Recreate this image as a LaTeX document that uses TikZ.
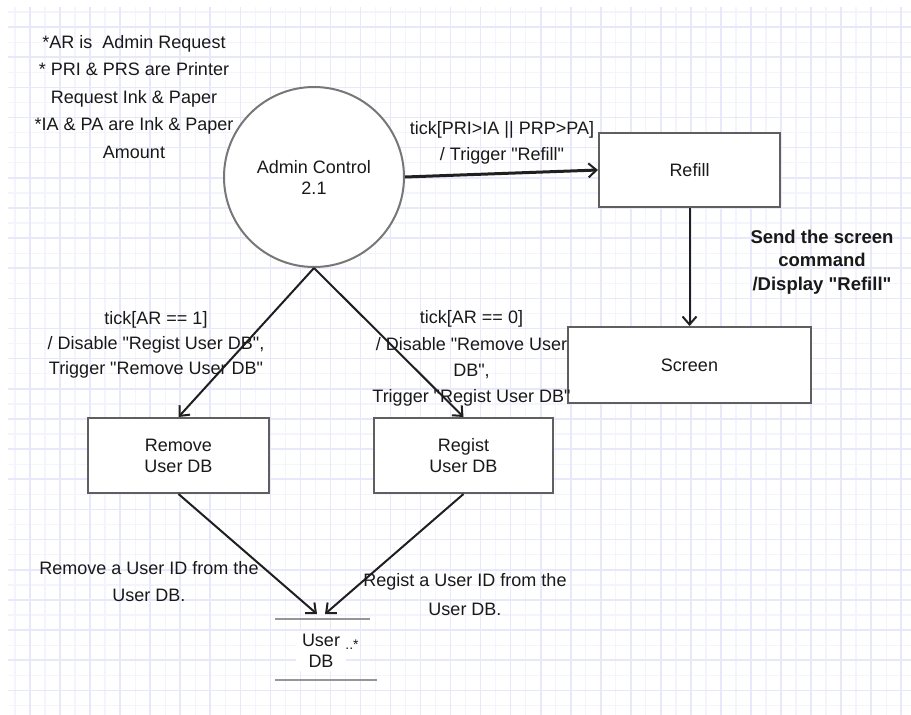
\documentclass[tikz,border=0pt]{standalone}
\usepackage{fontspec}
\setmainfont{Liberation Sans}[Ligatures=TeXOff]
\usetikzlibrary{arrows.meta}
\definecolor{gridmajor}{RGB}{232,232,251}
\definecolor{gridminor}{RGB}{244,244,253}
\definecolor{edgegray}{RGB}{95,95,95}
\definecolor{storegray}{RGB}{150,150,150}
\definecolor{txt}{RGB}{25,25,25}
\begin{document}
\begin{tikzpicture}[x=1pt,y=-1pt,
  gmaj/.style={draw=gridmajor, line width=1.6pt},
  gmin/.style={draw=gridminor, line width=1.3pt},
  box/.style={draw=edgegray, line width=2pt, fill=white, rectangle, inner sep=0pt,
    align=center, text=txt, font=\fontsize{18}{21}\selectfont},
  lbl/.style={align=center, text=txt, inner sep=0pt},
  flow/.style={draw=black!88, line width=2pt,
    -{Straight Barb[length=8pt,width=14pt,line width=2pt]}},
  storeline/.style={draw=storegray, line width=2.5pt}
]
\useasboundingbox (0,0) rectangle (911,715);
\fill[white] (0,0) rectangle (911,715);
% grid
\foreach \k in {0,...,29} {\draw[gmin] ({15+30.04*\k},7) -- ({15+30.04*\k},715);}
\foreach \k in {0,...,23} {\draw[gmin] (8,{12+30.15*\k}) -- (911,{12+30.15*\k});}
\foreach \k in {1,...,30} {\draw[gmaj] ({30.04*\k},7) -- ({30.04*\k},715);}
\foreach \k in {0,...,22} {\draw[gmaj] (8,{27+30.15*\k}) -- (911,{27+30.15*\k});}

% notes
\node[lbl, font=\fontsize{18}{27.5}\selectfont] (notes) at (134,97)
  {*AR is\ \ Admin Request\\* PRI \& PRS are Printer\\Request Ink \& Paper\\*IA \& PA are Ink \& Paper\\Amount};

% main nodes
\node[circle, draw=edgegray!85, line width=2pt, fill=white, minimum size=180pt, inner sep=0pt,
  align=center, text=txt, font=\fontsize{18}{21}\selectfont] (ac) at (314,177) {Admin Control\\2.1};
\node[box, minimum width=181pt, minimum height=74pt] (refill) at (689.5,170) {Refill};
\node[box, minimum width=243pt, minimum height=76pt] (screen) at (689.5,365) {Screen};
\node[box, minimum width=181pt, minimum height=75pt] (remove) at (178.5,455.5) {Remove\\User DB};
\node[box, minimum width=179pt, minimum height=75pt] (regist) at (463.5,455.5) {Regist\\User DB};

% data store
\draw[storeline] (275,619) -- (370,619);
\draw[storeline] (275,680) -- (377,680);
\node[fill=white, inner xsep=6pt, inner ysep=3pt, align=center, text=txt,
  font=\fontsize{18}{21}\selectfont] (store) at (321,651) {User\\DB};
\node[fill=white, inner sep=1pt, text=txt, font=\fontsize{14}{14}\selectfont] (mult) at (352,645) {..*};
\coordinate (inL) at (317,614);
\coordinate (inR) at (325,614);

% connectors
\draw[flow, line width=3pt] (ac.east) -- (refill.west);
\draw[flow] (refill.south) -- (screen.north);
\draw[flow] (ac.south) -- (remove.north);
\draw[flow] (ac.south) -- (regist.north);
\draw[flow] (remove.south) -- (inL);
\draw[flow] (regist.south) -- (inR);

% labels
\node[lbl, font=\fontsize{18}{26}\selectfont] (l1) at (502,143)
  {tick[PRI>IA || PRP>PA]\\/ Trigger "Refill"};
\node[lbl, font=\bfseries\fontsize{18.5}{23.3}\selectfont] (l2) at (822,262)
  {Send the screen\\command\\/Display "Refill"};
\node[lbl, font=\fontsize{18}{25}\selectfont] (l3) at (156,344.5)
  {tick[AR == 1]\\/ Disable "Regist User DB",\\Trigger "Remove User DB"};
\node[lbl, font=\fontsize{18}{26.3}\selectfont] (l4) at (471.5,358.5)
  {tick[AR == 0]\\/ Disable "Remove User\\DB",\\Trigger "Regist User DB"};
\node[lbl, font=\fontsize{18}{26.7}\selectfont] (l5) at (149,581.7)
  {Remove a User ID from the\\User DB.};
\node[lbl, font=\fontsize{18}{29.3}\selectfont] (l6) at (465,594.7)
  {Regist a User ID from the\\User DB.};
\end{tikzpicture}
\end{document}
